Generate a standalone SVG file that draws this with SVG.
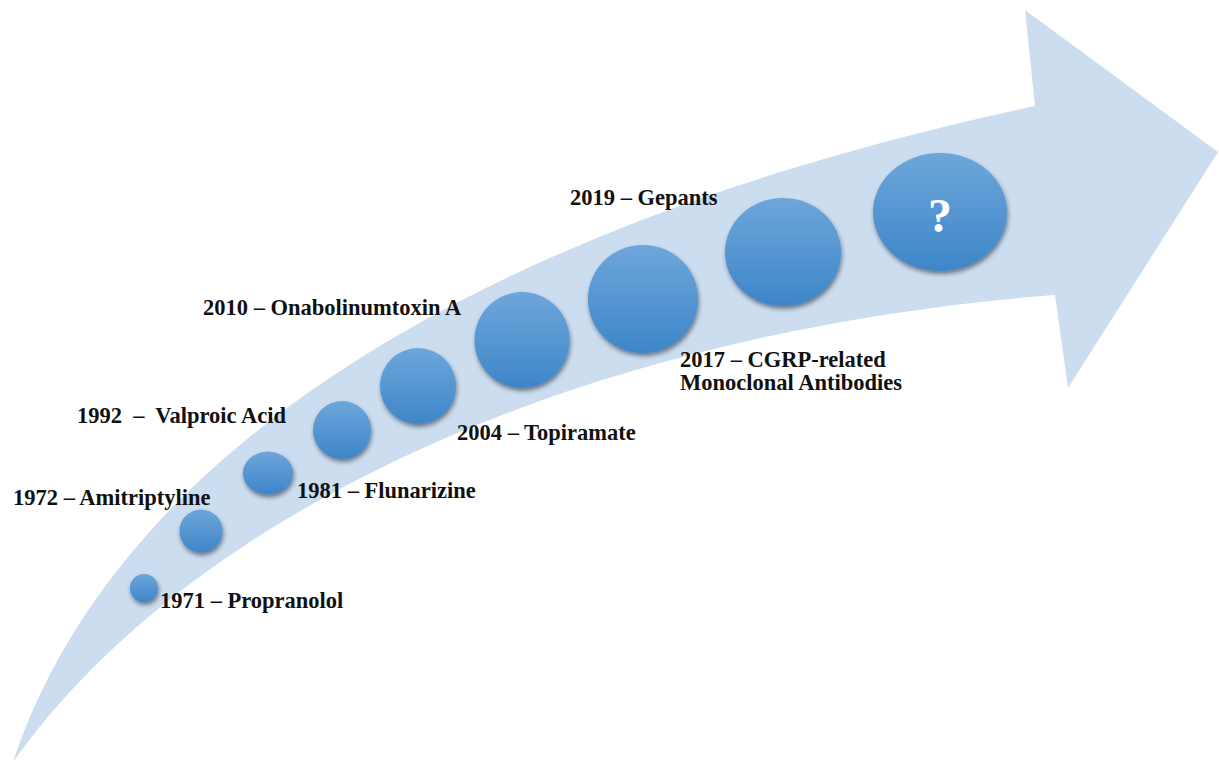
<svg xmlns="http://www.w3.org/2000/svg" width="1219" height="763" viewBox="0 0 1219 763">
<defs>
<linearGradient id="ball" x1="0" y1="0" x2="0" y2="1">
<stop offset="0" stop-color="#6ea6db"/>
<stop offset="1" stop-color="#3d86c8"/>
</linearGradient>
<filter id="shadow" x="-20%" y="-20%" width="140%" height="150%">
<feDropShadow dx="1" dy="3" stdDeviation="2" flood-color="#1a2a3a" flood-opacity="0.55"/>
</filter>
</defs>
<style>
.lbl{font-family:"Liberation Serif","Times New Roman",serif;font-weight:bold;font-size:22.5px;fill:#111;}
.ball{fill:url(#ball);filter:url(#shadow);}
.q{font-family:"Liberation Serif","Times New Roman",serif;font-weight:bold;font-size:48px;fill:#fff;}
</style>
<rect width="1219" height="763" fill="#ffffff"/>
<g id="connectors">
<path id="arrow" d="M 13 762 C 120 440 500 220 1035 106 L 1025 10 L 1218 152 L 1068 388 L 1055 295 C 600 330 200 500 13 762 Z" fill="#cbddef"/>
</g>
<g id="n1971"><ellipse class="ball" cx="144" cy="588" rx="14" ry="14"/><text class="lbl" x="160" y="608">1971 – Propranolol</text></g>
<g id="n1972"><ellipse class="ball" cx="201" cy="531" rx="21.5" ry="21.5"/><text class="lbl" x="13" y="505">1972 – Amitriptyline</text></g>
<g id="n1981"><ellipse class="ball" cx="268" cy="473" rx="25" ry="21.5"/><text class="lbl" x="297" y="498">1981 – Flunarizine</text></g>
<g id="n1992"><ellipse class="ball" cx="342" cy="430" rx="29" ry="29"/><text class="lbl" x="77" y="423" xml:space="preserve">1992  –  Valproic Acid</text></g>
<g id="n2004"><ellipse class="ball" cx="418" cy="386" rx="38" ry="38"/><text class="lbl" x="457" y="440">2004 – Topiramate</text></g>
<g id="n2010"><ellipse class="ball" cx="522" cy="340" rx="47.5" ry="48"/><text class="lbl" x="203" y="315">2010 – Onabolinumtoxin A</text></g>
<g id="n2017"><ellipse class="ball" cx="643" cy="299" rx="55" ry="54"/><text class="lbl" x="680" y="367">2017 – CGRP-related</text><text class="lbl" x="680" y="390">Monoclonal Antibodies</text></g>
<g id="n2019"><ellipse class="ball" cx="783" cy="252" rx="58" ry="54"/><text class="lbl" x="570" y="205">2019 – Gepants</text></g>
<g id="nfuture"><ellipse class="ball" cx="940" cy="212" rx="67" ry="59"/><text class="q" x="940" y="232" text-anchor="middle">?</text></g>
</svg>
